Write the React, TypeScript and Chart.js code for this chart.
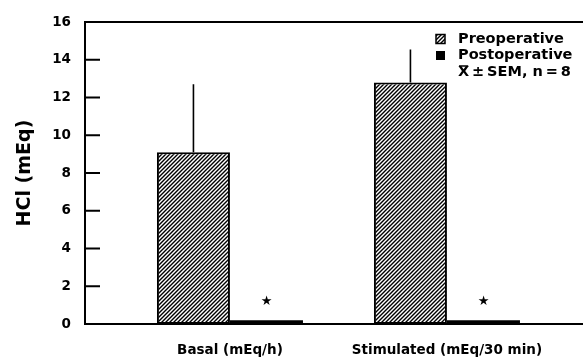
import React, { useEffect, useRef } from 'react';
import { Chart, registerables } from 'chart.js';

Chart.register(...registerables);

// ---- data ----
const categories = ['Basal (mEq/h)', 'Stimulated (mEq/30 min)'];
const categoryPositions = [1, 2];
const preoperative = [9.1, 12.8];
const preoperativeErrTop = [12.7, 14.55];
const postoperative = [0.2, 0.2];
const significant = [true, true];
const seriesLabels = ['Preoperative', 'Postoperative'];
const legendNoteSymbol = 'X';
const legendNoteRest = '\u2009\u00b1\u2009SEM, n\u2009=\u20098';
const yAxisTitle = 'HCl (mEq)';
const yMin = 0;
const yMax = 16;
const yStep = 2;
const xMin = 0.332;
const xMax = 2.627;

const FONT = "'DejaVu Sans', sans-serif";

function makeHatch(): CanvasPattern | string {
  const c = document.createElement('canvas');
  c.width = 4;
  c.height = 4;
  const g = c.getContext('2d');
  if (!g) return '#555';
  g.fillStyle = '#fff';
  g.fillRect(0, 0, 4, 4);
  g.strokeStyle = '#000';
  g.lineWidth = 1.4;
  g.beginPath();
  g.moveTo(0, 4);
  g.lineTo(4, 0);
  g.moveTo(-1, 1);
  g.lineTo(1, -1);
  g.moveTo(3, 5);
  g.lineTo(5, 3);
  g.stroke();
  const p = g.createPattern(c, 'repeat');
  return p || '#555';
}

export default function App() {
  const ref = useRef<HTMLCanvasElement | null>(null);

  useEffect(() => {
    if (!ref.current) return;
    const hatch = makeHatch();

    const decor = {
      id: 'decor',
      afterDatasetsDraw(chart: any) {
        const { ctx, chartArea, scales } = chart;
        const y = scales.y;
        ctx.save();
        ctx.strokeStyle = '#000';
        ctx.fillStyle = '#000';
        // top border
        ctx.lineWidth = 2;
        const yTop = y.getPixelForValue(yMax);
        ctx.beginPath();
        ctx.moveTo(chartArea.left - 1, yTop);
        ctx.lineTo(chart.width, yTop);
        ctx.stroke();
        // inward ticks
        ctx.beginPath();
        y.ticks.forEach((t: any) => {
          if (t.value === yMin || t.value === yMax) return;
          const py = y.getPixelForValue(t.value);
          ctx.moveTo(chartArea.left, py);
          ctx.lineTo(chartArea.left + 15, py);
        });
        ctx.stroke();
        // error bars
        ctx.lineWidth = 1.6;
        const meta0 = chart.getDatasetMeta(0);
        ctx.beginPath();
        meta0.data.forEach((bar: any, i: number) => {
          const top = y.getPixelForValue(preoperativeErrTop[i]);
          ctx.moveTo(bar.x, bar.y);
          ctx.lineTo(bar.x, top);
        });
        ctx.stroke();
        // significance stars
        const meta1 = chart.getDatasetMeta(1);
        ctx.font = `bold 13px ${FONT}`;
        ctx.textAlign = 'center';
        ctx.textBaseline = 'middle';
        meta1.data.forEach((bar: any, i: number) => {
          if (!significant[i]) return;
          ctx.fillText('\u2605', bar.x, bar.y - 19);
        });
        // legend
        const lx = chartArea.right - 147;
        const tx = lx + 22;
        const rows = [39, 55.5, 72];
        ctx.textAlign = 'left';
        ctx.font = `bold 14.5px ${FONT}`;
        ctx.fillStyle = hatch as any;
        ctx.fillRect(lx, rows[0] - 4.5, 9, 9);
        ctx.lineWidth = 1.5;
        ctx.strokeRect(lx, rows[0] - 4.5, 9, 9);
        ctx.fillStyle = '#000';
        ctx.fillRect(lx, rows[1] - 4.5, 9, 9);
        ctx.fillText(seriesLabels[0], tx, rows[0]);
        ctx.fillText(seriesLabels[1], tx, rows[1]);
        ctx.fillText(legendNoteSymbol, tx, rows[2]);
        const wX = ctx.measureText(legendNoteSymbol).width;
        ctx.fillText(legendNoteRest, tx + wX, rows[2]);
        // overbar on X
        ctx.lineWidth = 1.5;
        ctx.beginPath();
        ctx.moveTo(tx + 1, rows[2] - 6);
        ctx.lineTo(tx + wX - 1, rows[2] - 6);
        ctx.stroke();
        ctx.restore();
      },
    };

    const chart = new Chart(ref.current, {
      type: 'bar',
      data: {
        datasets: [
          {
            label: seriesLabels[0],
            data: categoryPositions.map((p, i) => ({ x: p, y: preoperative[i] })),
            backgroundColor: hatch as any,
            borderColor: '#000',
            borderWidth: 2,
            borderSkipped: false,
          },
          {
            label: seriesLabels[1],
            data: categoryPositions.map((p, i) => ({ x: p, y: postoperative[i] })),
            backgroundColor: '#000',
            borderColor: '#000',
            borderWidth: 0,
            borderSkipped: false,
          },
        ],
      },
      options: {
        animation: false,
        responsive: false,
        categoryPercentage: 0.673,
        barPercentage: 1.0,
        layout: { padding: { top: 19, right: 0, left: 0, bottom: 0 } },
        plugins: {
          legend: { display: false },
          tooltip: { enabled: false },
        },
        scales: {
          x: {
            type: 'linear',
            min: xMin,
            max: xMax,
            offset: false,
            grid: { display: false, drawTicks: false },
            border: { display: true, color: '#000', width: 2 },
            afterBuildTicks: (scale: any) => {
              scale.ticks = categoryPositions.map((v) => ({ value: v }));
            },
            afterFit: (scale: any) => {
              scale.height = 36;
            },
            ticks: {
              color: '#000',
              padding: 18,
              maxRotation: 0,
              autoSkip: false,
              font: { family: FONT, size: 13.5, weight: 'bold' },
              callback: (v: any) => categories[categoryPositions.indexOf(Number(v))] ?? '',
            },
          },
          y: {
            min: yMin,
            max: yMax,
            grid: { display: false, drawTicks: false },
            border: { display: true, color: '#000', width: 2 },
            afterFit: (scale: any) => {
              scale.width = 85;
            },
            ticks: {
              stepSize: yStep,
              color: '#000',
              padding: 14,
              font: { family: FONT, size: 13.5, weight: 'bold' },
            },
            title: {
              display: true,
              text: yAxisTitle,
              color: '#000',
              padding: { top: 14, bottom: 0 },
              font: { family: FONT, size: 19, weight: 'bold' },
            },
          },
        },
      } as any,
      plugins: [decor],
    });
    return () => chart.destroy();
  }, []);

  return (
    <div style={{ position: 'absolute', left: 0, top: 0, width: 583, height: 360, background: '#fff' }}>
      <canvas ref={ref} width={583} height={360} style={{ display: 'block' }} />
    </div>
  );
}
